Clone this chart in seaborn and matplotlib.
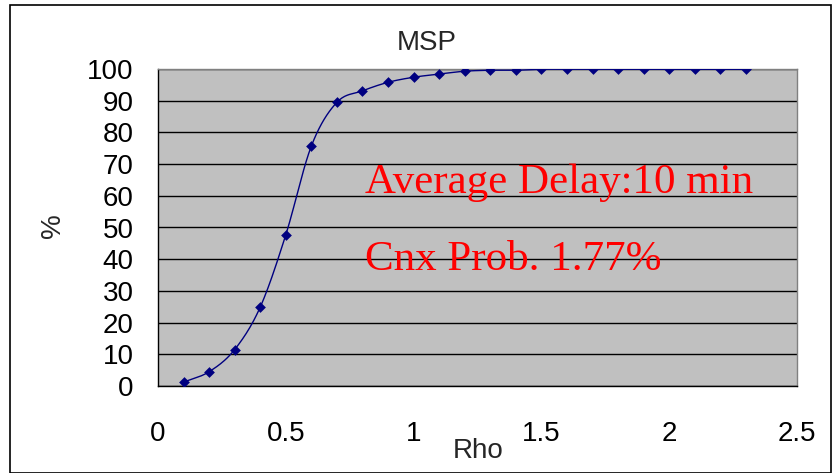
import numpy as np
import pandas as pd
import matplotlib
matplotlib.use("Agg")
import matplotlib.pyplot as plt
import seaborn as sns
from matplotlib.patches import Rectangle

# Share of calls served (%) against load Rho
rho = [0.1, 0.2, 0.3, 0.4, 0.5, 0.6, 0.7, 0.8, 0.9, 1.0, 1.1, 1.2,
       1.3, 1.4, 1.5, 1.6, 1.7, 1.8, 1.9, 2.0, 2.1, 2.2, 2.3]
pct = [1.2, 4.5, 11.5, 24.9, 47.7, 75.7, 89.5, 93.1, 95.8, 97.4, 98.4, 99.3,
       99.6, 99.6, 99.9, 99.9, 99.9, 99.9, 99.9, 99.9, 99.9, 99.9, 99.9]
x_ticks = [0, 0.5, 1, 1.5, 2, 2.5]
y_ticks = list(range(0, 101, 10))
title = "MSP"
notes = ["Average Delay:10 min", "Cnx Prob. 1.77%"]

df = pd.DataFrame({"Rho": rho, "pct": pct})


def catmull_rom(x, y, n=20):
    """Smooth path through the points (Catmull-Rom spline)."""
    x = np.asarray(x, float)
    y = np.asarray(y, float)
    px = np.concatenate([[2 * x[0] - x[1]], x, [2 * x[-1] - x[-2]]])
    py = np.concatenate([[2 * y[0] - y[1]], y, [2 * y[-1] - y[-2]]])
    t = np.linspace(0, 1, n, endpoint=False)
    xs, ys = [], []
    for i in range(1, len(px) - 2):
        for arr, out in ((px, xs), (py, ys)):
            p0, p1, p2, p3 = arr[i - 1], arr[i], arr[i + 1], arr[i + 2]
            out.append(0.5 * ((2 * p1) + (-p0 + p2) * t
                              + (2 * p0 - 5 * p1 + 4 * p2 - p3) * t ** 2
                              + (-p0 + 3 * p1 - 3 * p2 + p3) * t ** 3))
    xs.append([x[-1]])
    ys.append([y[-1]])
    return np.concatenate(xs), np.concatenate(ys)


sns.set_style("white")
plt.rcParams["font.family"] = ["Liberation Sans", "DejaVu Sans"]
fs = 20

W, H = 832, 473
fig = plt.figure(figsize=(W / 100, H / 100), dpi=100)
ax = fig.add_axes([158 / W, 1 - 386 / H, (797 - 158) / W, (386 - 69) / H])
ax.set_facecolor("#C0C0C0")

line_color = "#000080"
sx, sy = catmull_rom(df["Rho"], df["pct"])
ax.plot(sx, sy, color=line_color, lw=1.0, zorder=3)
sns.scatterplot(data=df, x="Rho", y="pct", ax=ax, marker="D", s=30,
                color=line_color, edgecolor=line_color, linewidth=0, zorder=4)

ax.set_xlim(0, 2.5)
ax.set_ylim(0, 100)
ax.set_xticks(x_ticks)
ax.set_xticklabels([f"{v:g}" for v in x_ticks])
ax.set_yticks(y_ticks)
ax.yaxis.grid(True, color="black", lw=1.0)
ax.set_axisbelow(True)
for g in ax.get_ygridlines():
    g.set_zorder(1)

ax.tick_params(axis="both", labelsize=fs, direction="out", length=7.5,
               width=1, color="black", labelcolor="black")
ax.tick_params(axis="x", pad=18)
ax.tick_params(axis="y", pad=10)

ax.spines["left"].set_color("black")
ax.spines["bottom"].set_color("black")
for s in ("top", "right"):
    ax.spines[s].set_color("#808080")
for s in ax.spines.values():
    s.set_linewidth(1.0)

ax.set_xlabel("")
ax.set_ylabel("")
fig.text(427 / W, 1 - 43 / H, title, fontsize=fs, ha="center", va="center")
fig.text(478 / W, 1 - 451 / H, "Rho", fontsize=fs, ha="center", va="center")
fig.text(53 / W, 1 - 226 / H, "%", fontsize=fs, ha="center", va="center",
         rotation=90)

for txt, yv in zip(notes, [60.9, 36.6]):
    ax.text(0.81, yv, txt, color="red", fontsize=31,
            family=["Liberation Serif", "DejaVu Serif"], va="baseline",
            ha="left")

fig.patches.append(Rectangle((10 / W, 0), 1 - 10 / W - 0.001, 1 - 5 / H,
                             transform=fig.transFigure, fill=False,
                             edgecolor="black", lw=1.2))

sns.despine(ax=ax, top=False, right=False)
fig.savefig("out.png", dpi=100)
